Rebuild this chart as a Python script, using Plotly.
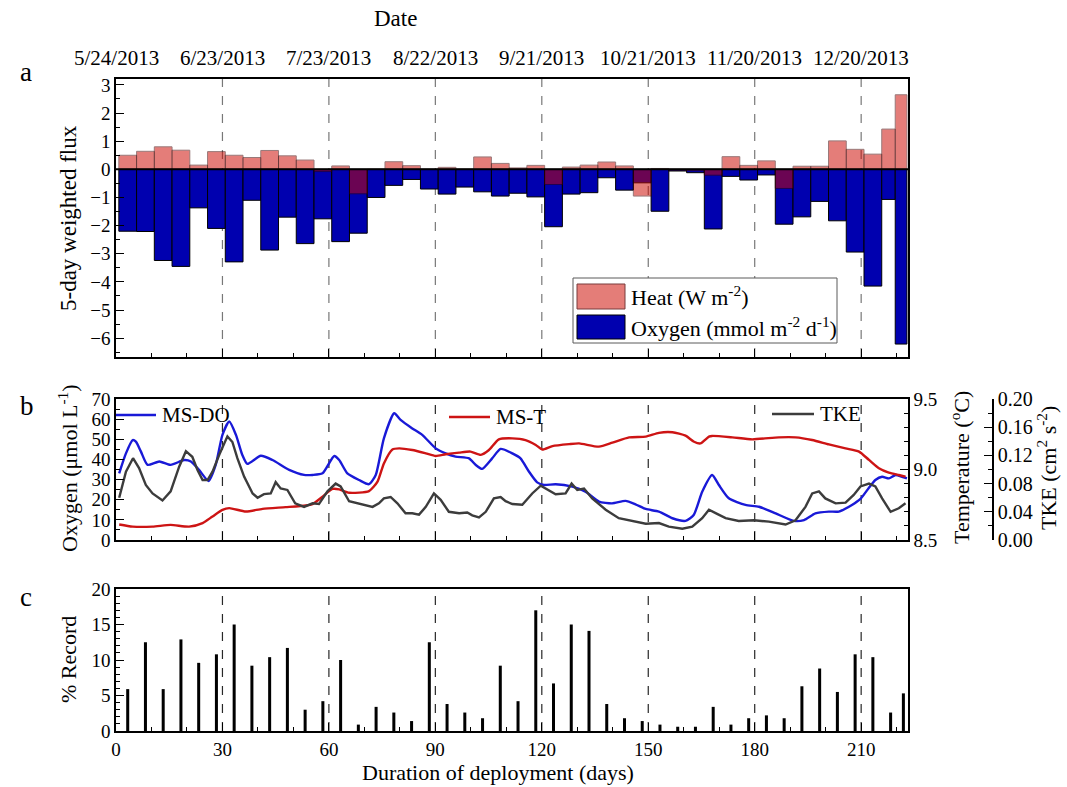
import plotly.graph_objects as go

W, H = 1067, 787


def px(x):
    return x / W


def py(y):
    return 1 - y / H


FONT = "Liberation Serif"

# ---------------- panel a: 5-day weighted fluxes ----------------
BIN_EDGES = [0.8, 5.8, 10.8, 15.8, 20.8, 25.8, 30.8, 35.8, 40.8, 45.8,
             50.8, 55.8, 60.8, 65.8, 70.8, 75.8, 80.8, 85.8, 90.8, 95.8,
             100.8, 105.8, 110.8, 115.8, 120.8, 125.8, 130.8, 135.8, 140.8, 145.8,
             150.8, 155.8, 160.8, 165.8, 170.8, 175.8, 180.8, 185.8, 190.8, 195.8,
             200.8, 205.8, 210.8, 215.8, 219.6, 222.9]
HEAT = [0.50, 0.64, 0.80, 0.68, 0.15, 0.63, 0.50, 0.42, 0.67, 0.48,
        0.33, -0.08, 0.12, -0.87, 0.00, 0.27, 0.13, 0.00, 0.07, 0.00,
        0.44, 0.21, 0.05, 0.14, -0.54, 0.08, 0.15, 0.26, 0.12, -0.95,
        0.03, -0.03, -0.05, -0.21, 0.45, 0.14, 0.30, -0.68, 0.11, 0.11,
        1.01, 0.71, 0.54, 1.43, 2.65]
OXYGEN = [-2.20, -2.21, -3.24, -3.45, -1.37, -2.10, -3.29, -1.10, -2.87, -1.70,
          -2.64, -1.76, -2.57, -2.27, -1.00, -0.57, -0.36, -0.70, -0.88, -0.63,
          -0.80, -0.95, -0.85, -0.98, -2.04, -0.88, -0.83, -0.30, -0.74, -0.48,
          -1.49, -0.06, -0.12, -2.12, -0.25, -0.38, -0.20, -1.95, -1.69, -1.14,
          -1.83, -2.94, -4.15, -1.07, -6.21]

# ---------------- panel b: moored sensor series ----------------
DO_DAY = [0.9, 2.8, 4.7, 5.6, 7.0, 8.9, 12.2, 15.4, 19.2, 21.1,
          23.4, 26.1, 28.1, 30.0, 31.9, 33.8, 35.6, 37.0, 40.8, 44.1,
          48.8, 53.0, 55.4, 58.2, 61.5, 62.9, 65.2, 68.5, 71.3, 73.2,
          75.5, 78.4, 80.2, 83.5, 86.3, 90.1, 92.9, 95.7, 99.5, 101.4,
          103.2, 106.0, 108.4, 111.7, 114.0, 116.4, 118.7, 120.6, 123.9, 128.6,
          132.3, 136.1, 139.8, 143.6, 146.4, 149.3, 153.0, 156.8, 160.5, 162.8,
          165.2, 168.0, 169.9, 172.7, 177.4, 181.2, 185.9, 191.0, 193.9, 197.1,
          200.9, 203.7, 207.4, 209.8, 212.1, 214.0, 215.9, 217.8, 219.7, 221.5,
          222.9]
DO_VAL = [33.1, 43.0, 49.6, 48.8, 44.0, 37.3, 39.0, 37.3, 39.7, 39.0,
          34.8, 29.3, 37.3, 52.2, 58.8, 52.2, 42.2, 37.8, 41.8, 39.7,
          34.8, 32.3, 32.3, 33.1, 41.7, 39.7, 33.1, 29.8, 27.7, 32.3,
          50.5, 62.9, 59.6, 55.4, 52.2, 45.5, 43.0, 41.4, 40.5, 37.2,
          35.3, 40.5, 45.2, 43.0, 40.5, 33.9, 28.6, 27.3, 27.7, 26.5,
          24.0, 19.1, 18.2, 19.4, 17.7, 15.4, 14.1, 10.8, 9.5, 12.4,
          24.0, 32.3, 27.3, 20.7, 17.4, 16.5, 13.2, 9.5, 9.9, 13.2,
          14.1, 14.1, 17.4, 20.4, 25.7, 29.8, 31.4, 30.6, 32.3, 31.4,
          30.6]

T_DAY = [0.9, 4.7, 10.3, 15.4, 20.6, 24.4, 27.2, 30.0, 31.9, 36.6,
         41.3, 47.8, 53.5, 55.4, 58.2, 61.0, 62.9, 65.7, 71.3, 73.7,
         75.5, 77.9, 79.8, 83.5, 87.3, 90.1, 92.9, 96.7, 99.9, 102.8,
         105.1, 107.9, 111.7, 115.4, 118.3, 120.1, 123.0, 127.7, 130.5, 136.1,
         139.9, 144.6, 149.3, 153.0, 156.8, 160.5, 162.9, 164.7, 167.1, 168.0,
         173.7, 179.3, 186.8, 191.5, 196.2, 200.9, 205.6, 209.4, 212.2, 215.0,
         217.8, 220.6, 222.5]
T_VAL = [8.610, 8.595, 8.595, 8.607, 8.595, 8.620, 8.667, 8.714, 8.726, 8.702,
         8.721, 8.733, 8.745, 8.755, 8.807, 8.862, 8.859, 8.835, 8.847, 8.914,
         9.043, 9.142, 9.150, 9.138, 9.115, 9.096, 9.108, 9.120, 9.127, 9.104,
         9.138, 9.214, 9.221, 9.209, 9.174, 9.142, 9.166, 9.180, 9.185, 9.162,
         9.190, 9.228, 9.233, 9.260, 9.264, 9.240, 9.197, 9.185, 9.233, 9.238,
         9.228, 9.214, 9.228, 9.228, 9.209, 9.178, 9.150, 9.127, 9.068, 9.009,
         8.978, 8.961, 8.950]

TKE_DAY = [0.9, 2.8, 4.8, 6.5, 8.4, 10.3, 13.1, 15.4, 17.8, 19.7,
           21.5, 23.0, 24.4, 25.8, 27.2, 29.1, 31.4, 32.8, 34.2, 36.1,
           38.5, 39.9, 41.7, 43.6, 45.0, 46.4, 48.3, 50.5, 53.0, 55.4,
           57.2, 59.6, 61.9, 63.3, 65.7, 70.4, 72.3, 74.1, 75.5, 77.4,
           79.3, 81.6, 83.5, 85.4, 87.3, 89.6, 91.5, 93.8, 96.7, 99.0,
           100.4, 102.3, 104.2, 106.5, 108.4, 109.8, 111.7, 114.5, 117.3, 119.7,
           121.1, 123.9, 126.7, 128.4, 130.0, 131.9, 134.2, 138.0, 141.7, 145.5,
           149.3, 153.0, 155.8, 159.6, 162.4, 165.2, 167.1, 169.4, 171.8, 175.5,
           179.8, 184.0, 188.7, 191.5, 194.3, 196.2, 198.1, 199.9, 202.8, 205.6,
           207.9, 209.8, 212.2, 214.0, 215.9, 218.3, 220.6, 222.5]
TKE_VAL = [0.060, 0.097, 0.116, 0.102, 0.078, 0.066, 0.056, 0.069, 0.104, 0.126,
           0.118, 0.099, 0.085, 0.085, 0.097, 0.121, 0.147, 0.139, 0.116, 0.090,
           0.066, 0.060, 0.065, 0.066, 0.082, 0.073, 0.071, 0.052, 0.047, 0.052,
           0.051, 0.069, 0.080, 0.076, 0.055, 0.050, 0.047, 0.052, 0.059, 0.061,
           0.052, 0.038, 0.038, 0.036, 0.047, 0.066, 0.057, 0.040, 0.038, 0.039,
           0.035, 0.032, 0.040, 0.059, 0.061, 0.055, 0.051, 0.050, 0.066, 0.077,
           0.073, 0.065, 0.066, 0.080, 0.071, 0.073, 0.059, 0.043, 0.031, 0.027,
           0.023, 0.024, 0.019, 0.016, 0.019, 0.031, 0.043, 0.037, 0.031, 0.027,
           0.028, 0.026, 0.022, 0.028, 0.047, 0.066, 0.069, 0.059, 0.052, 0.053,
           0.064, 0.076, 0.080, 0.076, 0.059, 0.040, 0.045, 0.052]

# ---------------- panel c: record share ----------------
REC_DAY = [3.3, 8.3, 13.3, 18.3, 23.3, 28.3, 33.3, 38.3, 43.3, 48.3,
           53.3, 58.3, 63.3, 68.3, 73.3, 78.3, 83.3, 88.3, 93.3, 98.3,
           103.3, 108.3, 113.3, 118.3, 123.3, 128.3, 133.3, 138.3, 143.3, 148.3,
           153.3, 158.3, 163.3, 168.3, 173.3, 178.3, 183.3, 188.3, 193.3, 198.3,
           203.3, 208.3, 213.3, 218.3, 221.9]
REC_PCT = [5.9, 12.5, 5.9, 12.9, 9.6, 10.8, 15.0, 9.2, 10.4, 11.7,
           3.0, 4.2, 10.0, 0.9, 3.4, 2.6, 1.4, 12.5, 3.8, 2.6,
           1.8, 9.2, 4.2, 17.0, 6.7, 15.0, 14.1, 3.8, 1.8, 1.4,
           0.9, 0.6, 0.6, 3.4, 0.9, 1.8, 2.2, 1.8, 6.3, 8.8,
           5.5, 10.8, 10.4, 2.6, 5.3]

MONTH_DAYS = [30, 60, 90, 120, 150, 180, 210]
DATE_DAYS = [0, 30, 60, 90, 120, 150, 180, 210]
DATE_LABELS = ["5/24/2013", "6/23/2013", "7/23/2013", "8/22/2013",
               "9/21/2013", "10/21/2013", "11/20/2013", "12/20/2013"]
X_MAX = 223.2

# colours
HEAT_C = "rgb(205,8,0)"
OXY_C = "rgb(0,0,175)"
DO_C = "rgb(25,25,215)"
T_C = "rgb(205,20,20)"
TKE_C = "rgb(60,60,60)"

bin_mid = [(a + b) / 2 for a, b in zip(BIN_EDGES[:-1], BIN_EDGES[1:])]
bin_w = [b - a for a, b in zip(BIN_EDGES[:-1], BIN_EDGES[1:])]

fig = go.Figure()

fig.add_trace(go.Bar(x=bin_mid, y=OXYGEN, width=bin_w, xaxis="x", yaxis="y",
                     marker=dict(color=OXY_C, line=dict(color="black", width=1)),
                     showlegend=False))
fig.add_trace(go.Bar(x=bin_mid, y=HEAT, width=bin_w, xaxis="x", yaxis="y",
                     marker=dict(color=HEAT_C, opacity=0.52,
                                 line=dict(color="rgb(60,0,0)", width=1)),
                     showlegend=False))

fig.add_trace(go.Scatter(x=TKE_DAY, y=TKE_VAL, xaxis="x2", yaxis="y4", mode="lines",
                         line=dict(color=TKE_C, width=2.4), showlegend=False))
fig.add_trace(go.Scatter(x=T_DAY, y=T_VAL, xaxis="x2", yaxis="y3", mode="lines",
                         line=dict(color=T_C, width=2.4, shape="spline", smoothing=0.6),
                         showlegend=False))
fig.add_trace(go.Scatter(x=DO_DAY, y=DO_VAL, xaxis="x2", yaxis="y2", mode="lines",
                         line=dict(color=DO_C, width=2.4, shape="spline", smoothing=0.6),
                         showlegend=False))

fig.add_trace(go.Bar(x=REC_DAY, y=REC_PCT, width=0.85, xaxis="x3", yaxis="y5",
                     marker=dict(color="black", line=dict(width=0)), showlegend=False))

tick_font = dict(family=FONT, size=19, color="black")
x_dom = [px(116), px(908)]


def xax(anchor, labels):
    return dict(domain=x_dom, anchor=anchor, range=[0, X_MAX], dtick=30, tick0=0,
                ticks="inside", ticklen=8, tickwidth=1.2, tickcolor="black",
                minor=dict(dtick=10, tick0=0, ticks="inside", ticklen=4,
                           tickcolor="black", tickwidth=1),
                showline=True, linecolor="black", linewidth=1.5, mirror=True,
                showgrid=False, zeroline=False, showticklabels=labels,
                tickfont=tick_font, fixedrange=True, automargin=False)


def yax(dom, rng, dtick, minor, **kw):
    d = dict(domain=dom, range=rng, dtick=dtick, ticks="inside", ticklen=8,
             tickwidth=1.2, tickcolor="black",
             minor=dict(dtick=minor, ticks="inside", ticklen=4,
                        tickcolor="black", tickwidth=1),
             showline=True, linecolor="black", linewidth=1.5,
             showgrid=False, zeroline=False, tickfont=tick_font, fixedrange=True,
             automargin=False)
    d.update(kw)
    return d


fig.update_layout(
    width=W, height=H, margin=dict(l=0, r=0, t=0, b=0, pad=0), autosize=False,
    paper_bgcolor="white", plot_bgcolor="white", barmode="overlay",
    font=dict(family=FONT, color="black"), showlegend=False,
    xaxis=xax("y", False),
    xaxis2=xax("y2", False),
    xaxis3=xax("y5", True),
    yaxis=yax([py(357), py(79)], [-6.67, 3.21], 1, 0.5, anchor="x", mirror=True,
              tick0=0),
    yaxis2=yax([py(540), py(399)], [0, 70], 10, 5, anchor="x2", mirror=True),
    yaxis3=yax([py(540), py(399)], [8.5, 9.5], 0.5, 0.1, anchor="x2",
               overlaying="y2", side="right", tickformat=".1f"),
    yaxis4=yax([py(540), py(399)], [0, 0.2], 0.04, 0.02, anchor="free",
               overlaying="y2", side="right", position=px(993), tickformat=".2f",
               tickfont=dict(family=FONT, size=20, color="black")),
    yaxis5=yax([py(731), py(589)], [0, 20], 5, 1, anchor="x3", mirror=True),
)

shapes = []
# monthly markers
for d in MONTH_DAYS:
    shapes.append(dict(type="line", xref="x", yref="y domain", x0=d, x1=d, y0=0, y1=1,
                       line=dict(color="rgb(120,120,120)", width=1.2, dash="dash"),
                       layer="below"))
    for xr, yr in (("x2", "y2 domain"), ("x3", "y5 domain")):
        shapes.append(dict(type="line", xref=xr, yref=yr, x0=d, x1=d, y0=0, y1=1,
                           line=dict(color="rgb(40,40,40)", width=1.2, dash="dash"),
                           layer="below"))
# flux zero line
shapes.append(dict(type="line", xref="x domain", yref="y", x0=0, x1=1, y0=0, y1=0,
                   line=dict(color="black", width=2)))

# panel a legend box
shapes.append(dict(type="rect", xref="paper", yref="paper",
                   x0=px(573), x1=px(837), y0=py(343), y1=py(278),
                   line=dict(color="rgb(90,90,90)", width=1), fillcolor="white"))
shapes.append(dict(type="rect", xref="paper", yref="paper",
                   x0=px(577), x1=px(625), y0=py(309), y1=py(284),
                   line=dict(color="rgb(120,60,60)", width=1),
                   fillcolor="rgb(228,125,120)"))
shapes.append(dict(type="rect", xref="paper", yref="paper",
                   x0=px(577), x1=px(625), y0=py(339), y1=py(315),
                   line=dict(color="black", width=1), fillcolor=OXY_C))

# panel b legend line samples
for x0, x1, yy, c in ((116, 156, 415, DO_C), (449, 490, 417, T_C), (772, 814, 414, TKE_C)):
    shapes.append(dict(type="line", xref="paper", yref="paper",
                       x0=px(x0), x1=px(x1), y0=py(yy), y1=py(yy),
                       line=dict(color=c, width=2.4)))

fig.update_layout(shapes=shapes)

ann = []


def text(x, y, s, size=20, xanchor="left", angle=0):
    ann.append(dict(x=px(x), y=py(y), xref="paper", yref="paper", text=s,
                    showarrow=False, xanchor=xanchor, yanchor="middle",
                    textangle=angle, font=dict(family=FONT, size=size, color="black")))


# top date axis
text(395, 18, "Date", size=23, xanchor="center")
for d, lab in zip(DATE_DAYS, DATE_LABELS):
    ann.append(dict(x=d, y=py(58), xref="x", yref="paper", text=lab, showarrow=False,
                    xanchor="center", yanchor="middle",
                    font=dict(family=FONT, size=21, color="black")))

# panel letters
text(18, 72, "a", size=27)
text(18, 406, "b", size=27)
text(18, 597, "c", size=27)

# axis titles
text(68, 218, "5-day weighted flux", size=23, xanchor="center", angle=-90)
text(68, 468, "Oxygen (μmol L<sup>-1</sup>)", size=22, xanchor="center", angle=-90)
text(960, 468, "Temperature (<sup>o</sup>C)", size=22, xanchor="center", angle=-90)
text(1047, 468, "TKE (cm<sup>2</sup> s<sup>-2</sup>)", size=22, xanchor="center", angle=-90)
text(68, 660, "% Record", size=22, xanchor="center", angle=-90)
text(498, 772, "Duration of deployment (days)", size=22, xanchor="center")

# legends
text(629, 296, "Heat (W m<sup>-2</sup>)", size=22)
text(629, 327, "Oxygen (mmol m<sup>-2</sup> d<sup>-1</sup>)", size=22)
text(160, 415, "MS-DO", size=21)
text(494, 417, "MS-T", size=21)
text(818, 414, "TKE", size=21)

fig.update_layout(annotations=ann)

fig.write_html("out.html")
